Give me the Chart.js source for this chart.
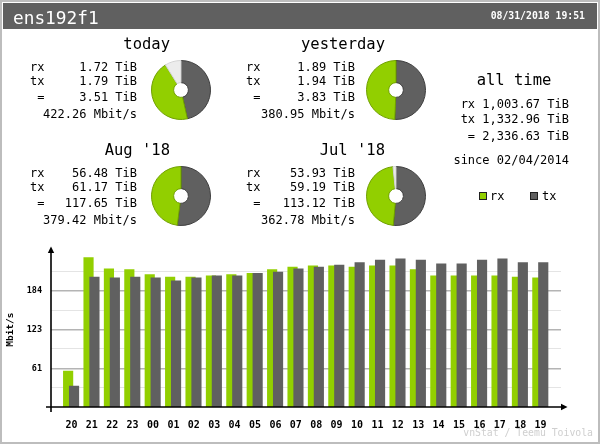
<!DOCTYPE html>
<html>
<head>
<meta charset="utf-8">
<script src="https://cdn.jsdelivr.net/npm/chart.js@4.4.1/dist/chart.umd.min.js"></script>
<style>
  html, body { margin: 0; padding: 0; background: #fff; }
  #page { position: relative; width: 600px; height: 444px; overflow: hidden; background: #fff;
          font-family: "DejaVu Sans Mono", monospace; color: #000; }
  #frame { position: absolute; left: 0; top: 0; width: 596px; height: 440px; border: 2px solid #bdbdbd; }
  #header { position: absolute; left: 3px; top: 3px; width: 594px; height: 26px; background: #606060; }
  #bars { position: absolute; left: 0; top: 0; }
  .pie { position: absolute; }
  .t { position: absolute; white-space: pre; }
  .sq { position: absolute; width: 6px; height: 6px; border: 1px solid #202020; }
</style>
</head>
<body>
<div id="page">
  <div id="frame"></div>
  <div id="header"></div>
  <canvas id="bars" width="600" height="444"></canvas>
</div>
<script>
// hourly traffic, Mbit/s
const hourLabels = ['20','21','22','23','00','01','02','03','04','05','06','07',
                    '08','09','10','11','12','13','14','15','16','17','18','19'];
const rxRate = [57, 237, 219, 218, 210, 206, 206, 208, 210, 212, 218, 222,
                224, 224, 222, 224, 224, 218, 208, 208, 208, 208, 206, 205];
const txRate = [33, 206, 205, 206, 205, 200, 205, 208, 208, 212, 214, 219,
                222, 225, 229, 233, 235, 233, 227, 227, 233, 235, 229, 229];

// y axis grid
const yMajor = [61.33, 122.67, 184];
const yMajorLabels = ['61', '123', '184'];
const yMinor = [30.67, 92, 153.33, 214.67];

// summary pies (TiB); rest = the light slice
const pieTitles = ['today', 'yesterday', "Aug '18", "Jul '18"];
const pieRx = [1.72, 1.89, 56.48, 53.93];
const pieTx = [1.79, 1.94, 61.17, 59.19];
const pieRest = [0.34, 0, 0, 1.9];
const rxText = ['1.72 TiB', '1.89 TiB', '56.48 TiB', '53.93 TiB'];
const txText = ['1.79 TiB', '1.94 TiB', '61.17 TiB', '59.19 TiB'];
const sumText = ['3.51 TiB', '3.83 TiB', '117.65 TiB', '113.12 TiB'];
const rateText = ['422.26 Mbit/s', '380.95 Mbit/s', '379.42 Mbit/s', '362.78 Mbit/s'];

const allTimeLines = ['rx 1,003.67 TiB', 'tx 1,332.96 TiB', '= 2,336.63 TiB'];

const RX = '#92cf00', TX = '#606060', REST = '#ececec';
const MONO = '"DejaVu Sans Mono", monospace';
const page = document.getElementById('page');

// text helper: x is left edge (or right edge when align = 'right'), cy is line centre
function addText(str, x, cy, size, opts) {
    opts = opts || {};
    let el = document.createElement('div');
    el.className = 't';
    el.textContent = str;
    el.style.fontSize = size + 'px';
    el.style.lineHeight = (size * 1.2) + 'px';
    el.style.top = (cy - size * 0.6) + 'px';
    if (opts.align === 'right') el.style.right = (600 - x) + 'px';
    else if (opts.align === 'center') { el.style.left = (x - 200) + 'px'; el.style.width = '400px'; el.style.textAlign = 'center'; }
    else el.style.left = x + 'px';
    if (opts.color) el.style.color = opts.color;
    if (opts.bold) el.style.fontWeight = 'bold';
    page.appendChild(el);
    return el;
}

// header
addText('ens192f1', 13, 18, 17.8, { color: '#fff' });
addText('08/31/2018 19:51', 585, 15.7, 9.8, { color: '#fff', bold: true, align: 'right' });

// summary blocks
const blocks = [
    { lx: 30, vr: 137, tr: 170, ty: 44.7, px: 181, py: 90 },
    { lx: 246, vr: 355, tr: 385, ty: 44.7, px: 396, py: 90 },
    { lx: 30, vr: 137, tr: 170, ty: 150.7, px: 181, py: 196 },
    { lx: 246, vr: 355, tr: 385, ty: 150.7, px: 396, py: 196 }
];
const rowOff = [22, 36, 52, 69];

blocks.forEach(function (b, i) {
    addText(pieTitles[i], b.tr, b.ty, 15.5, { align: 'right' });
    addText('rx', b.lx, b.ty + rowOff[0], 12);
    addText('tx', b.lx, b.ty + rowOff[1], 12);
    addText(' =', b.lx, b.ty + rowOff[2], 12);
    addText(rxText[i], b.vr, b.ty + rowOff[0], 12, { align: 'right' });
    addText(txText[i], b.vr, b.ty + rowOff[1], 12, { align: 'right' });
    addText(sumText[i], b.vr, b.ty + rowOff[2], 12, { align: 'right' });
    addText(rateText[i], b.vr, b.ty + rowOff[3], 12, { align: 'right' });

    let c = document.createElement('canvas');
    c.className = 'pie';
    c.width = 60; c.height = 60;
    c.style.left = (b.px - 30) + 'px';
    c.style.top = (b.py - 30) + 'px';
    page.appendChild(c);
    new Chart(c, {
        type: 'doughnut',
        data: {
            labels: ['tx', 'rx', ''],
            datasets: [{
                data: [pieTx[i], pieRx[i], pieRest[i]],
                backgroundColor: [TX, RX, REST],
                borderColor: ['#3e3e3e', '#70a000', '#d4d4d4'],
                borderWidth: 1
            }]
        },
        options: {
            responsive: false,
            animation: false,
            cutout: '25%',
            plugins: { legend: { display: false }, tooltip: { enabled: false } }
        }
    });
});

// all time
addText('all time', 514, 80, 15.5, { align: 'center' });
addText(allTimeLines[0], 569, 104, 12, { align: 'right' });
addText(allTimeLines[1], 569, 119, 12, { align: 'right' });
addText(allTimeLines[2], 569, 136, 12, { align: 'right' });
addText('since 02/04/2014', 569, 160, 12, { align: 'right' });

// legend
function addSquare(x, cy, color) {
    let s = document.createElement('div');
    s.className = 'sq';
    s.style.left = x + 'px';
    s.style.top = (cy - 4) + 'px';
    s.style.background = color;
    page.appendChild(s);
}
addSquare(479, 196, RX);
addText('rx', 490, 196, 12);
addSquare(530, 196, TX);
addText('tx', 542, 196, 12);

// footer
addText('vnStat / Teemu Toivola', 593, 433, 9.8, { color: '#cfcfcf', align: 'right' });

// axes with arrow heads
const axisArrows = {
    id: 'axisArrows',
    afterDraw(chart) {
        const { ctx, chartArea: a } = chart;
        ctx.save();
        ctx.strokeStyle = '#000';
        ctx.fillStyle = '#000';
        ctx.lineWidth = 1.6;
        ctx.beginPath();
        ctx.moveTo(a.left, a.bottom + 5);
        ctx.lineTo(a.left, 250);
        ctx.moveTo(a.left - 5, a.bottom);
        ctx.lineTo(564, a.bottom);
        ctx.stroke();
        ctx.beginPath();
        ctx.moveTo(a.left, 246.5);
        ctx.lineTo(a.left - 3.2, 253);
        ctx.lineTo(a.left + 3.2, 253);
        ctx.closePath();
        ctx.fill();
        ctx.beginPath();
        ctx.moveTo(567.5, a.bottom);
        ctx.lineTo(561, a.bottom - 3.2);
        ctx.lineTo(561, a.bottom + 3.2);
        ctx.closePath();
        ctx.fill();
        ctx.restore();
    }
};

function isMajor(v) { return yMajor.some(m => Math.abs(m - v) < 0.01); }

new Chart(document.getElementById('bars'), {
    type: 'bar',
    data: {
        datasets: [
            { label: 'rx', data: rxRate.map((v, i) => ({ x: i - 0.16, y: v })), backgroundColor: RX, order: 2 },
            { label: 'tx', data: txRate.map((v, i) => ({ x: i + 0.13, y: v })), backgroundColor: TX, order: 1 }
        ]
    },
    options: {
        responsive: false,
        animation: false,
        layout: { padding: { top: 252.3, right: 39, left: 0, bottom: 0 } },
        datasets: { bar: { grouped: false, barThickness: 9.5, borderWidth: 0 } },
        plugins: { legend: { display: false }, tooltip: { enabled: false } },
        scales: {
            x: {
                type: 'linear', min: -1, max: 24, offset: false,
                grid: { display: false },
                border: { display: false },
                afterBuildTicks: s => { s.ticks = hourLabels.map((_, i) => ({ value: i })); },
                afterFit: s => { s.height = 37; },
                ticks: {
                    autoSkip: false, maxRotation: 0, padding: 4, color: '#000',
                    font: { family: MONO, size: 10, weight: 'bold' },
                    callback: v => hourLabels[v] !== undefined ? hourLabels[v] : ''
                }
            },
            y: {
                min: 0, max: 245.33,
                border: { display: false },
                afterBuildTicks: s => { s.ticks = yMinor.concat(yMajor).sort((a, b) => a - b).map(v => ({ value: v })); },
                afterFit: s => { s.width = 51; },
                grid: {
                    drawTicks: false,
                    color: c => isMajor(c.tick.value) ? '#b4b4b4' : '#e4e4e4',
                    lineWidth: c => isMajor(c.tick.value) ? 1.5 : 1
                },
                ticks: {
                    padding: 9, color: '#000',
                    font: { family: MONO, size: 8.5, weight: 'bold' },
                    callback: v => {
                        const k = yMajor.findIndex(m => Math.abs(m - v) < 0.01);
                        return k >= 0 ? yMajorLabels[k] : '';
                    }
                },
                title: {
                    display: true, text: 'Mbit/s', color: '#000',
                    font: { family: MONO, size: 9.5, weight: 'bold' },
                    padding: { top: 5, bottom: 0 }
                }
            }
        }
    },
    plugins: [axisArrows]
});
</script>
</body>
</html>
